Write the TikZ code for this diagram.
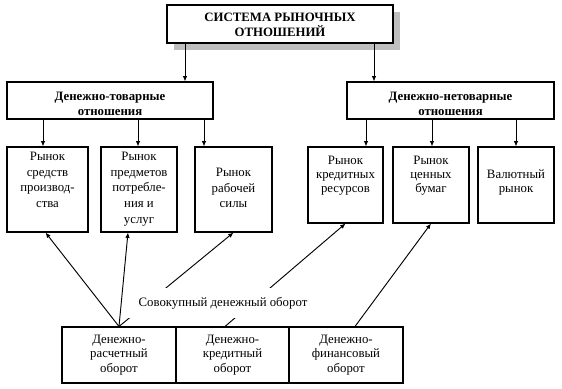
\documentclass[tikz,border=0pt]{standalone}
\usepackage{fontspec}
\setmainfont{Liberation Serif}
\usetikzlibrary{arrows.meta,fit,calc}
\begin{document}
\begin{tikzpicture}[x=0.75pt,y=-0.75pt,line width=0.75pt,
  box/.style={draw=black,fill=white,rectangle,inner sep=0pt,line width=0.8pt},
  boldtxt/.style={inner sep=0pt,align=center,font=\bfseries\fontsize{9.6pt}{10.9pt}\selectfont},
  lefttxt/.style={inner sep=0pt,align=center,anchor=north,font=\fontsize{9.6pt}{11.8pt}\selectfont},
  righttxt/.style={inner sep=0pt,align=center,anchor=north,font=\fontsize{9.6pt}{10.5pt}\selectfont},
  bottxt/.style={inner sep=0pt,align=center,anchor=north,font=\fontsize{9.6pt}{10.9pt}\selectfont},
  lbl/.style={fill=white,inner sep=0pt,minimum width=144pt,minimum height=22.5pt,font=\fontsize{9.6pt}{11pt}\selectfont},
  arr/.style={-{Latex[length=4pt,width=3.4pt]},line width=0.7pt},
  ln/.style={line width=0.7pt}]
\useasboundingbox (0,0) rectangle (562,389);
\fill[white] (0,0) rectangle (562,389);
% top box with shadow
\coordinate (topA) at (167,5);
\coordinate (topB) at (393,43);
\fill[black!25] ($(topA)+(7,7)$) rectangle ($(topB)+(7,7)$);
\node[box,fit={(topA) (topB)}] (top) {};
\node[boldtxt] (toptxt) at (280,25) {СИСТЕМА РЫНОЧНЫХ\\ОТНОШЕНИЙ};
% second level
\node[box,fit={(7,82) (213,119)}] (dt) {};
\node[boldtxt] (dttxt) at (110,104) {Денежно-товарные\\отношения};
\node[box,fit={(347,82) (554,119)}] (dn) {};
\node[boldtxt] (dntxt) at (450.5,104) {Денежно-нетоварные\\отношения};
% markets
\node[box,fit={(7,147) (88,232)}] (mA) {};
\node[box,fit={(101,147) (177,232)}] (mB) {};
\node[box,fit={(195,147) (272,232)}] (mC) {};
\node[box,fit={(308,147) (383,223)}] (mD) {};
\node[box,fit={(393,147) (469,223)}] (mE) {};
\node[box,fit={(478,147) (554,223)}] (mF) {};
\node[lefttxt] (tA) at (47.5,151.5) {Рынок\\средств\\производ-\\ства};
\node[lefttxt] (tB) at (139,151.5) {Рынок\\предметов\\потребле-\\ния и\\услуг};
\node[lefttxt] (tC) at (233.5,167.5) {Рынок\\рабочей\\силы};
\node[righttxt] (tD) at (345.5,155.5) {Рынок\\кредитных\\ресурсов};
\node[righttxt] (tE) at (431,155.5) {Рынок\\ценных\\бумаг};
\node[righttxt] (tF) at (516,169.5) {Валютный\\рынок};
% bottom boxes
\node[box,fit={(62,327) (176,383)}] (b1) {};
\node[box,fit={(176,327) (289,383)}] (b2) {};
\node[box,fit={(289,327) (403,383)}] (b3) {};
\node[bottxt] (tb1) at (119,334.5) {Денежно-\\расчетный\\оборот};
\node[bottxt] (tb2) at (232.5,334.5) {Денежно-\\кредитный\\оборот};
\node[bottxt] (tb3) at (346,334.5) {Денежно-\\финансовый\\оборот};
% vertical arrows
\draw[arr] ([xshift=-95*0.75pt]top.south) -- ([xshift=-95*0.75pt]top.south |- dt.north);
\draw[arr] ([xshift=94*0.75pt]top.south) -- ([xshift=94*0.75pt]top.south |- dn.north);
\draw[arr] ([xshift=-67*0.75pt]dt.south) -- ([xshift=-67*0.75pt]dt.south |- mA.north);
\draw[arr] ([xshift=28*0.75pt]dt.south) -- ([xshift=28*0.75pt]dt.south |- mB.north);
\draw[arr] ([xshift=94*0.75pt]dt.south) -- ([xshift=94*0.75pt]dt.south |- mC.north);
\draw[arr] ([xshift=-84.5*0.75pt]dn.south) -- ([xshift=-84.5*0.75pt]dn.south |- mD.north);
\draw[arr] ([xshift=-18.5*0.75pt]dn.south) -- ([xshift=-18.5*0.75pt]dn.south |- mE.north);
\draw[arr] ([xshift=65.5*0.75pt]dn.south) -- ([xshift=65.5*0.75pt]dn.south |- mF.north);
% diagonal arrows
\draw[arr] (b1.north) -- ([xshift=-2*0.75pt]mA.south);
\draw[arr] (b1.north) -- ([xshift=-11*0.75pt]mB.south);
\draw[arr] (b1.north) -- (mC.south);
\draw[arr] ([xshift=-7.5*0.75pt]b2.north) -- (mD.south);
\draw[arr] ([xshift=9*0.75pt]b3.north) -- (mE.south);
% label
\node[lbl] (sum) at (223,303) {Совокупный денежный оборот};
\end{tikzpicture}
\end{document}
